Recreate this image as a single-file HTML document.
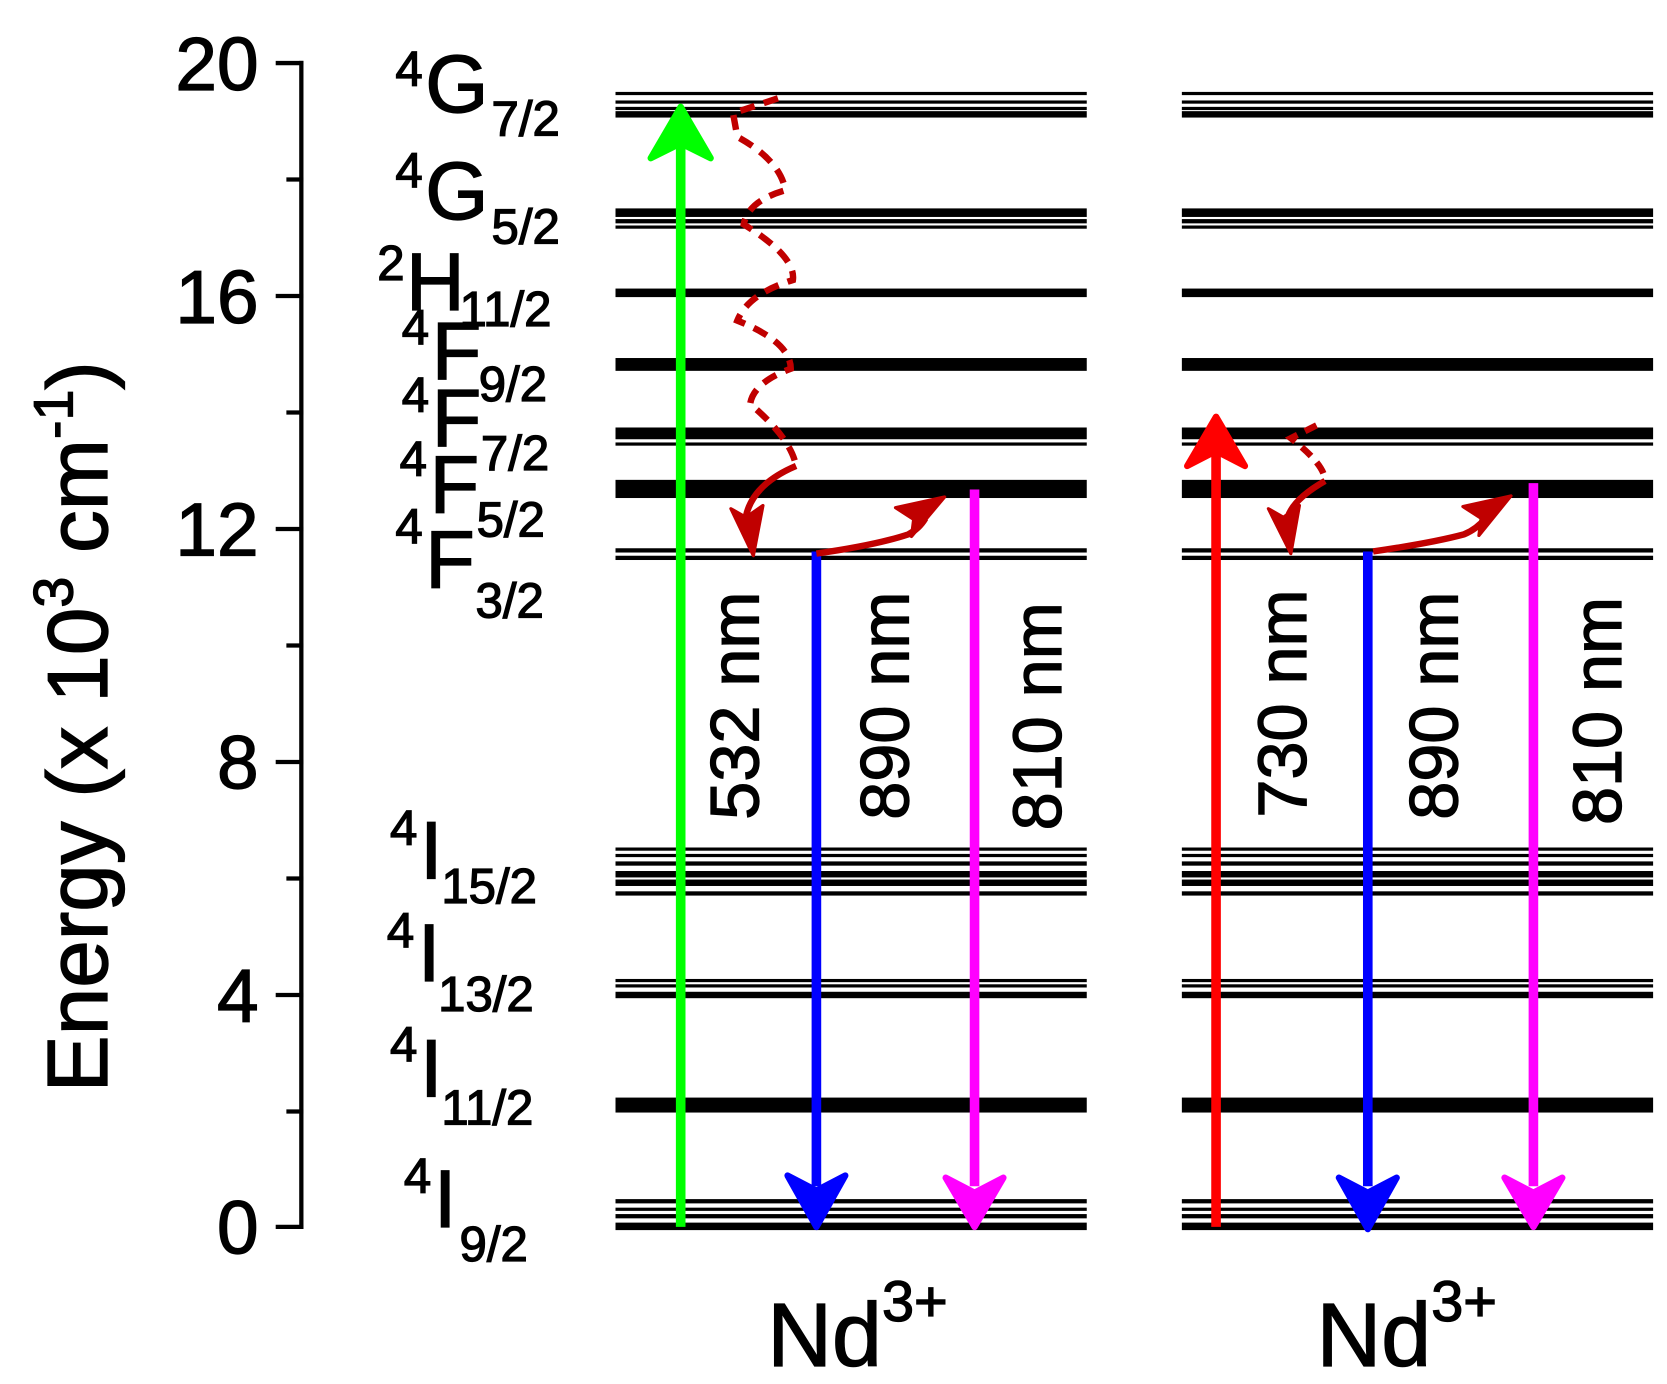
<!DOCTYPE html>
<html><head><meta charset="utf-8"><style>
html,body{margin:0;padding:0;background:#fff}
svg{display:block}
text{font-family:"Liberation Sans",Arial,sans-serif;fill:#000;stroke:#000;stroke-width:1.2}
</style></head><body>
<svg width="1667" height="1384" viewBox="0 0 1560 1295" preserveAspectRatio="none" xmlns="http://www.w3.org/2000/svg">
<g stroke="#000" stroke-width="4">
<line x1="282" y1="57" x2="282" y2="1150"/>
<line x1="258" y1="59" x2="284" y2="59"/>
<line x1="258" y1="277" x2="284" y2="277"/>
<line x1="258" y1="495" x2="284" y2="495"/>
<line x1="258" y1="713" x2="284" y2="713"/>
<line x1="258" y1="931" x2="284" y2="931"/>
<line x1="258" y1="1148" x2="284" y2="1148"/>
<line x1="268" y1="168" x2="284" y2="168"/>
<line x1="268" y1="386" x2="284" y2="386"/>
<line x1="268" y1="604" x2="284" y2="604"/>
<line x1="268" y1="822" x2="284" y2="822"/>
<line x1="268" y1="1040" x2="284" y2="1040"/>
</g>
<g font-size="70" text-anchor="end">
<text x="242" y="84">20</text>
<text x="242" y="302">16</text>
<text x="242" y="520">12</text>
<text x="242" y="738">8</text>
<text x="242" y="956">4</text>
<text x="242" y="1173">0</text>
</g>
<text transform="translate(100,680) rotate(-90)" font-size="80" text-anchor="middle">Energy (x 10<tspan font-size="52" dy="-32">3</tspan><tspan dy="32"> cm</tspan><tspan font-size="52" dy="-32">-1</tspan><tspan dy="32">)</tspan></text>

<g font-size="76">
<text x="370" y="80" font-size="46">4</text><text x="398" y="105">G</text><text x="460" y="127" font-size="46">7/2</text>
<text x="370" y="175" font-size="46">4</text><text x="398" y="205">G</text><text x="460" y="228" font-size="46">5/2</text>
<text x="353" y="262" font-size="46">2</text><text x="380" y="290">H</text><text x="430" y="305" font-size="46">11/2</text>
<text x="376" y="322" font-size="46">4</text><text x="404" y="355">F</text><text x="448" y="375" font-size="46">9/2</text>
<text x="376" y="385" font-size="46">4</text><text x="404" y="418">F</text><text x="450" y="440" font-size="46">7/2</text>
<text x="374" y="445" font-size="46">4</text><text x="402" y="480">F</text><text x="446" y="502" font-size="46">5/2</text>
<text x="370" y="508" font-size="46">4</text><text x="398" y="550">F</text><text x="445" y="578" font-size="46">3/2</text>
<text x="365" y="790" font-size="46">4</text><text x="393" y="822">I</text><text x="413" y="845" font-size="46">15/2</text>
<text x="362" y="886" font-size="46">4</text><text x="391" y="918">I</text><text x="410" y="946" font-size="46">13/2</text>
<text x="365" y="993" font-size="46">4</text><text x="393" y="1026">I</text><text x="413" y="1052" font-size="46">11/2</text>
<text x="378" y="1116" font-size="46">4</text><text x="406" y="1148">I</text><text x="430" y="1180" font-size="46">9/2</text>
</g>

<defs>
<g id="lv" fill="#000">
<rect x="0" y="86" width="441" height="3"/>
<rect x="0" y="94" width="441" height="3"/>
<rect x="0" y="100" width="441" height="3"/>
<rect x="0" y="104" width="441" height="6"/>
<rect x="0" y="195" width="441" height="8"/>
<rect x="0" y="205" width="441" height="4"/>
<rect x="0" y="211" width="441" height="3"/>
<rect x="0" y="270" width="441" height="8"/>
<rect x="0" y="335" width="441" height="12"/>
<rect x="0" y="400" width="441" height="11"/>
<rect x="0" y="414" width="441" height="3"/>
<rect x="0" y="449" width="441" height="17"/>
<rect x="0" y="513" width="441" height="4"/>
<rect x="0" y="520" width="441" height="4"/>
<rect x="0" y="793" width="441" height="3"/>
<rect x="0" y="799" width="441" height="3"/>
<rect x="0" y="806" width="441" height="4"/>
<rect x="0" y="815" width="441" height="6"/>
<rect x="0" y="823" width="441" height="6"/>
<rect x="0" y="834" width="441" height="4"/>
<rect x="0" y="916" width="441" height="3"/>
<rect x="0" y="921" width="441" height="3"/>
<rect x="0" y="928" width="441" height="6"/>
<rect x="0" y="1027" width="441" height="14"/>
<rect x="0" y="1122" width="441" height="4"/>
<rect x="0" y="1130" width="441" height="3"/>
<rect x="0" y="1136" width="441" height="4"/>
<rect x="0" y="1144" width="441" height="7"/>
</g>
</defs>
<use href="#lv" x="576"/>
<use href="#lv" x="1106"/>

<g stroke-width="9">
<line x1="637" y1="1148" x2="637" y2="130" stroke="#00ff00"/>
<line x1="764" y1="516" x2="764" y2="1110" stroke="#0000ff"/>
<line x1="912" y1="458" x2="912" y2="1110" stroke="#ff00ff"/>
<line x1="1138" y1="1148" x2="1138" y2="420" stroke="#ff0000"/>
<line x1="1280" y1="516" x2="1280" y2="1110" stroke="#0000ff"/>
<line x1="1435" y1="452" x2="1435" y2="1110" stroke="#ff00ff"/>
</g>
<g stroke-linejoin="round" stroke-width="6">
<polygon points="637,100 665,148 637,134 609,148" fill="#00ff00" stroke="#00ff00"/>
<polygon points="764,1148 791,1100 764,1114 737,1100" fill="#0000ff" stroke="#0000ff"/>
<polygon points="912,1148 939,1102 912,1116 885,1102" fill="#ff00ff" stroke="#ff00ff"/>
<polygon points="1138,390 1165,436 1138,422 1111,436" fill="#ff0000" stroke="#ff0000"/>
<polygon points="1280,1150 1307,1102 1280,1116 1253,1102" fill="#0000ff" stroke="#0000ff"/>
<polygon points="1435,1148 1462,1102 1435,1116 1408,1102" fill="#ff00ff" stroke="#ff00ff"/>
</g>

<g fill="none" stroke="#c00000" stroke-width="6">
<path d="M728,92 L686,106 L690,128 Q730,150 735,178 Q700,188 696,210 Q745,240 742,262 Q700,275 690,300 Q740,320 740,345 Q705,358 702,378 Q740,410 745,436" stroke-dasharray="14,9"/>
<path d="M745,436 Q700,455 697,490"/>
<path d="M764,518 Q820,510 850,500 Q860,495 866,485"/>
<path d="M1232,398 L1208,410 Q1240,435 1240,450" stroke-dasharray="12,8"/>
<path d="M1240,450 Q1205,470 1204,490"/>
<path d="M1285,516 Q1340,508 1370,500 Q1382,495 1390,485"/>
</g>
<g fill="#c00000" stroke="#c00000" stroke-width="3" stroke-linejoin="round">
<polygon points="705,520 684,476 698,484 714,473"/>
<polygon points="884,465 838,475 855,486 853,502"/>
<polygon points="1208,518 1187,476 1201,484 1216,473"/>
<polygon points="1414,464 1369,474 1386,485 1384,501"/>
</g>

<g font-size="64">
<text transform="translate(710,767) rotate(-90)">532 nm</text>
<text transform="translate(850,767) rotate(-90)">890 nm</text>
<text transform="translate(993,777) rotate(-90)">810 nm</text>
<text transform="translate(1222,765) rotate(-90)">730 nm</text>
<text transform="translate(1364,767) rotate(-90)">890 nm</text>
<text transform="translate(1517,772) rotate(-90)">810 nm</text>
</g>

<text x="718" y="1278" font-size="84">Nd<tspan font-size="54" dy="-42">3+</tspan></text>
<text x="1232" y="1278" font-size="84">Nd<tspan font-size="54" dy="-42">3+</tspan></text>
</svg>
</body></html>
